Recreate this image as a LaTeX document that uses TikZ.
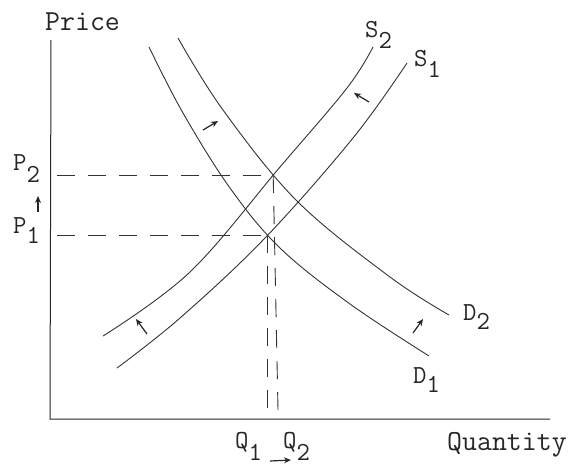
\documentclass[tikz,border=0pt]{standalone}
\usepackage{fontspec}
\usetikzlibrary{arrows.meta,intersections}
\newcommand{\lbl}[3][10pt]{#2\raisebox{-#1}{#3}}

\begin{document}
\begin{tikzpicture}[x=1pt,y=-1pt,
	every node/.style={font=\ttfamily\fontsize{26}{30}\selectfont, text=black!85, inner sep=0pt, anchor=base west},
	axisline/.style={line width=1pt, black!85},
	curve/.style={line width=0.9pt, black!80},
	guide/.style={line width=0.9pt, black!80, dash pattern=on 18pt off 13pt},
	shiftarrow/.style={line width=1.2pt, black!85, -{Stealth[length=7pt,width=6pt]}}]
	\useasboundingbox (0,0) rectangle (577,466);
	\coordinate (O) at (50,419);
	\coordinate (ytop) at (51,40);
	\coordinate (xend) at (550,419);
	\draw[axisline] (ytop) -- (O) -- (xend);
	\node[font=\ttfamily\fontsize{29}{32}\selectfont] (price) at (45,30) {Price};
	\node[font=\ttfamily\fontsize{29}{32}\selectfont] (quantity) at (447,450) {Quantity};
	
	\draw[curve, name path=D1] plot[smooth, tension=0.6] coordinates
		{(149,47) (183,113) (230,188) (280,248) (350,304) (429,356)};
	\draw[curve, name path=D2] plot[smooth, tension=0.6] coordinates
		{(178,38) (223,110) (297,201) (390,277) (449,315)};
	\draw[curve, name path=S1] plot[smooth, tension=0.6] coordinates
		{(117,368) (180,318) (265,238) (353,138) (407,63)};
	\draw[curve, name path=S2] plot[smooth, tension=0.6] coordinates
		{(103,336) (190,272) (280,167) (347,88) (373,47)};
	\path[name intersections={of=D1 and S1, by=E1}];
	\path[name intersections={of=D2 and S2, by=E2}];
	
	\draw[guide] ([xshift=7pt]E1 -| O) -- (E1);
	\draw[guide] ([xshift=7pt]E2 -| O) -- (E2);
	\draw[guide] (E1) -- ([yshift=8pt]E1 |- O);
	\draw[guide] (E2) -- ([xshift=5pt]E2 |- O);
	
	\node (p2) at (13,170) {\lbl[12pt]{P}{2}};
	\node (p1) at (13,233) {\lbl{P}{1}};
	\node (q1) at (235,448) {\lbl[12pt]{Q}{1}};
	\node (q2) at (283,448) {\lbl[12pt]{Q}{2}};
	\node (s2) at (365,37) {\lbl[11pt]{S}{2}};
	\node (s1) at (414,66) {\lbl[11pt]{S}{1}};
	\node (d2) at (463,320) {\lbl[9pt]{D}{2}};
	\node (d1) at (413,383) {\lbl[9pt]{D}{1}};
	
	\coordinate (pa) at (38,212);
	\coordinate (pb) at (38,196);
	\coordinate (qa) at (270,461);
	\coordinate (qb) at (291,460);
	\draw[shiftarrow] (pa) -- (pb);
	\draw[shiftarrow] (qa) -- (qb);
	\draw[shiftarrow] (203,130) -- (218,121);
	\draw[shiftarrow] (413,333) -- (423,319);
	\draw[shiftarrow] (369,102) -- (354,93);
	\draw[shiftarrow] (147,334) -- (136,319);
	
\end{tikzpicture}
\end{document}
